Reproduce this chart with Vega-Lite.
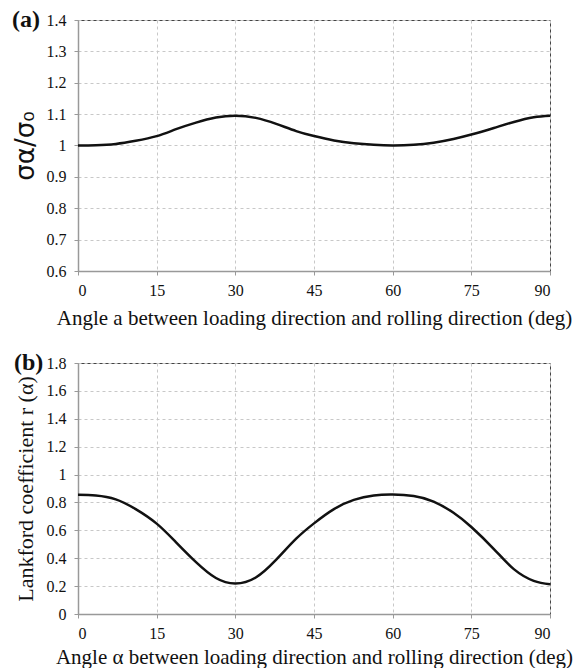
{
  "$schema": "https://vega.github.io/schema/vega-lite/v6.json",
  "padding": {"left": 11, "top": 7, "right": 3, "bottom": 0},
  "spacing": 21,
  "datasets": {
    "stress": [
      {"angle": 0, "value": 1.000}, {"angle": 3.4, "value": 1.001}, {"angle": 7.2, "value": 1.005},
      {"angle": 11, "value": 1.015}, {"angle": 15, "value": 1.030}, {"angle": 18.7, "value": 1.052},
      {"angle": 22.5, "value": 1.073}, {"angle": 26.3, "value": 1.089}, {"angle": 30, "value": 1.095},
      {"angle": 33.9, "value": 1.088}, {"angle": 37.8, "value": 1.069}, {"angle": 41.6, "value": 1.046},
      {"angle": 45, "value": 1.030}, {"angle": 48.8, "value": 1.016}, {"angle": 52.6, "value": 1.007},
      {"angle": 56.4, "value": 1.002}, {"angle": 60, "value": 1.000}, {"angle": 64, "value": 1.002},
      {"angle": 67.8, "value": 1.009}, {"angle": 71.6, "value": 1.021}, {"angle": 75, "value": 1.035},
      {"angle": 79.3, "value": 1.056}, {"angle": 83.1, "value": 1.075}, {"angle": 86.9, "value": 1.090},
      {"angle": 90, "value": 1.095}
    ],
    "lankford": [
      {"angle": 0, "value": 0.855}, {"angle": 3.4, "value": 0.850}, {"angle": 7.2, "value": 0.822},
      {"angle": 11, "value": 0.752}, {"angle": 15, "value": 0.648}, {"angle": 18.7, "value": 0.514},
      {"angle": 22.5, "value": 0.372}, {"angle": 26.3, "value": 0.258}, {"angle": 30, "value": 0.219},
      {"angle": 33.9, "value": 0.262}, {"angle": 37.8, "value": 0.390}, {"angle": 41.6, "value": 0.540},
      {"angle": 45, "value": 0.650}, {"angle": 48.8, "value": 0.752}, {"angle": 52.6, "value": 0.818},
      {"angle": 56.4, "value": 0.850}, {"angle": 60, "value": 0.857}, {"angle": 64, "value": 0.846},
      {"angle": 67.8, "value": 0.806}, {"angle": 71.6, "value": 0.726}, {"angle": 75, "value": 0.624},
      {"angle": 79.3, "value": 0.466}, {"angle": 83.1, "value": 0.322}, {"angle": 86.9, "value": 0.238},
      {"angle": 90, "value": 0.214}
    ]
  },
  "config": {
    "view": {"stroke": "#444", "strokeWidth": 1},
    "axis": {
      "labelFont": "Liberation Serif",
      "labelFontSize": 16,
      "labelColor": "#111",
      "titleFont": "Liberation Serif",
      "titleFontWeight": "normal",
      "titleColor": "#111",
      "domainColor": "#999",
      "domainWidth": 1.5,
      "tickColor": "#999",
      "tickSize": 4,
      "gridColor": "#c8c8c8",
      "gridDash": [3, 3],
      "gridWidth": 1
    },
    "axisX": {"labelPadding": 7, "titleFontSize": 21, "titlePadding": 9},
    "axisY": {"labelPadding": 8, "minExtent": 32, "maxExtent": 32, "titleFontSize": 22, "titlePadding": 9},
    "title": {
      "font": "Liberation Serif",
      "fontSize": 24,
      "fontWeight": "bold",
      "anchor": "start",
      "frame": "bounds",
      "color": "#111"
    }
  },
  "vconcat": [
    {
      "width": 472,
      "height": 251,
      "title": {"text": "(a)", "dy": 24},
      "data": {"name": "stress"},
      "mark": {"type": "line", "color": "#111", "strokeWidth": 2.5, "interpolate": "natural"},
      "encoding": {
        "x": {
          "field": "angle", "type": "quantitative",
          "scale": {"domain": [0, 90], "nice": false},
          "axis": {
            "values": [0, 15, 30, 45, 60, 75, 90],
            "labelFont": "Liberation Serif",
            "title": "Angle a between loading direction and rolling direction (deg)"
          }
        },
        "y": {
          "field": "value", "type": "quantitative",
          "scale": {"domain": [0.6, 1.4], "nice": false, "zero": false},
          "axis": {
            "values": [0.6, 0.7, 0.8, 0.9, 1.0, 1.1, 1.2, 1.3, 1.4],
            "format": ".1~f",
            "labelFont": "Liberation Serif",
            "title": "σα/σ₀",
            "titleFont": "DejaVu Sans",
            "titleFontSize": 26,
            "titlePadding": 8
          }
        }
      }
    },
    {
      "width": 472,
      "height": 251,
      "title": {"text": "(b)", "dy": 24},
      "data": {"name": "lankford"},
      "mark": {"type": "line", "color": "#111", "strokeWidth": 2.5, "interpolate": "natural"},
      "encoding": {
        "x": {
          "field": "angle", "type": "quantitative",
          "scale": {"domain": [0, 90], "nice": false},
          "axis": {
            "values": [0, 15, 30, 45, 60, 75, 90],
            "labelFont": "Liberation Serif",
            "title": "Angle α between loading direction and rolling direction (deg)",
            "titlePadding": 5
          }
        },
        "y": {
          "field": "value", "type": "quantitative",
          "scale": {"domain": [0, 1.8], "nice": false},
          "axis": {
            "values": [0, 0.2, 0.4, 0.6, 0.8, 1.0, 1.2, 1.4, 1.6, 1.8],
            "format": ".1~f",
            "labelFont": "Liberation Serif",
            "title": "Lankford coefficient r (α)"
          }
        }
      }
    }
  ]
}
